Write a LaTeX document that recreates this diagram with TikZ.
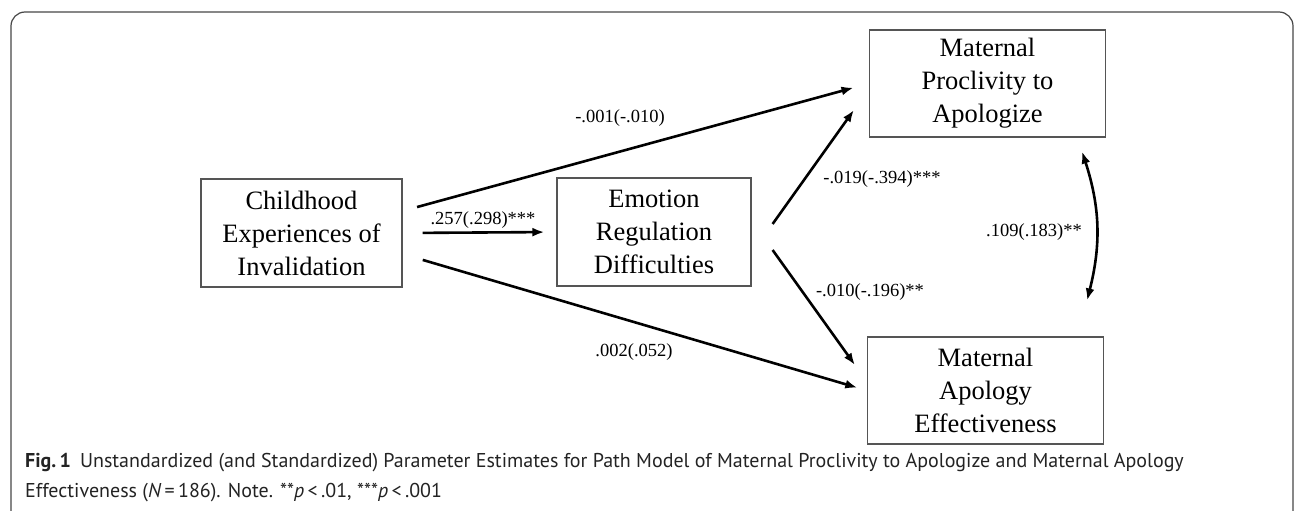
\documentclass[tikz,border=0pt]{standalone}
\usepackage{fontspec}
\setmainfont{Liberation Serif}
\newfontfamily\capfont{PT Sans}
\usetikzlibrary{positioning,arrows.meta}
\definecolor{boxline}{RGB}{85,85,85}
\definecolor{frameline}{RGB}{70,70,70}
\definecolor{captext}{RGB}{35,35,35}

\begin{document}
\begin{tikzpicture}[
  x=1pt, y=-1pt,
  varbox/.style={draw=boxline, line width=1.2pt, minimum width=236pt, minimum height=107pt, inner sep=0pt, align=center, font=\fontsize{26.5}{33}\selectfont},
  arrow/.style={-{Latex[length=12pt,width=9pt]}, line width=2.6pt},
  coef/.style={font=\fontsize{18.5}{22}\selectfont, inner sep=0pt}
]
\useasboundingbox (0,0) rectangle (1295,511);
\draw[frameline, line width=1.2pt, rounded corners=14pt] (11,12) rectangle (1293,540);

% variables
\node[varbox, minimum width=201pt, minimum height=108pt] (chi) at (301.5,233) {Childhood\\Experiences of\\Invalidation};
\node[varbox, minimum width=194pt, minimum height=108pt] (emo) at (654,232) {Emotion\\Regulation\\Difficulties};
\node[varbox] (prc) at (987.5,83.5) {Maternal\\Proclivity to\\Apologize};
\node[varbox] (apo) at (985.5,390.5) {Maternal\\Apology\\Effectiveness};

% paths
\draw[arrow, shorten <=15pt, shorten >=16pt] ([yshift=22pt]chi.east) -- (prc.west);
\draw[arrow, shorten <=20pt, shorten >=12pt] (chi.east) -- (emo.west);
\draw[arrow, shorten <=21pt, shorten >=10pt] ([yshift=-21pt]chi.east) -- (apo.west);
\draw[arrow] ([xshift=21pt,yshift=8pt]emo.east) -- ([xshift=-15pt,yshift=-26.5pt]prc.west);
\draw[arrow] ([xshift=21pt,yshift=-18pt]emo.east) -- ([xshift=-12pt,yshift=25.5pt]apo.west);
\draw[{Latex[length=12pt,width=9pt]}-{Latex[length=12pt,width=9pt]}, line width=2.6pt]
  ([xshift=-24pt,yshift=-14pt]prc.south east) to[bend left=16] ([xshift=-17pt,yshift=36pt]apo.north east);

% estimates
\node[coef] (c1) at (620,118) {-.001(-.010)};
\node[coef] (c2) at (483,220) {.257(.298)***};
\node[coef] (c3) at (634,352) {.002(.052)};
\node[coef] (c4) at (882,179) {-.019(-.394)***};
\node[coef] (c5) at (870,292) {-.010(-.196)**};
\node[coef] (c6) at (1034,232) {.109(.183)**};

% caption
\node[anchor=base west, inner sep=0pt, text=captext, font=\capfont\fontsize{20}{24}\selectfont] (cap1) at (25,467)
  {\textbf{Fig.\,1}\hspace{9pt}Unstandardized (and Standardized) Parameter Estimates for Path Model of Maternal Proclivity to Apologize and Maternal Apology};
\node[anchor=base west, inner sep=0pt, text=captext, font=\capfont\fontsize{20}{24}\selectfont] (cap2) at (25,497)
  {Effectiveness (\textit{N}\,=\,186). Note. **\textit{p}\,<\,.01, ***\textit{p}\,<\,.001};
\end{tikzpicture}
\end{document}
